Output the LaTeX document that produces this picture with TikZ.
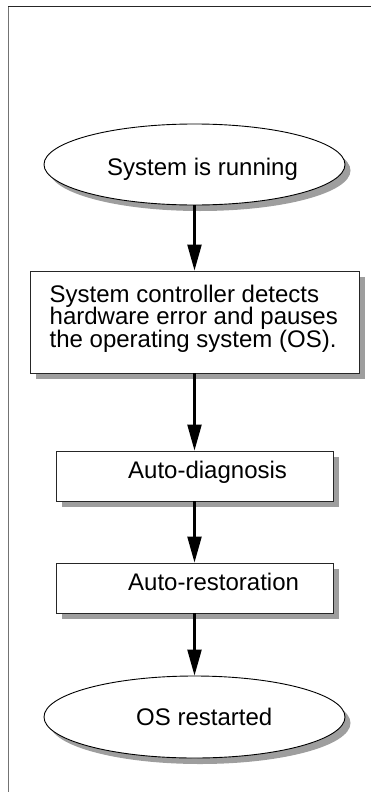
\documentclass[tikz,border=0pt]{standalone}
\usepackage{fontspec}
\setmainfont{Liberation Sans}
\usetikzlibrary{shapes.geometric,arrows.meta,shadows}
\begin{document}
\begin{tikzpicture}[x=1pt,y=-1pt,
  shad/.style={drop shadow={shadow xshift=5.5pt,shadow yshift=-6pt,fill=black!38,opacity=1}},
  ell/.style={ellipse,draw=black,line width=0.9pt,fill=white,inner sep=0pt,minimum width=301pt,minimum height=81pt,shad},
  boxnode/.style={rectangle,draw=black!85,line width=0.9pt,fill=white,inner sep=0pt,shad},
  txt/.style={inner sep=0pt,font=\fontsize{24}{22.5}\selectfont},
  flow/.style={line width=2.3pt,-{Triangle[length=26pt,width=14pt]}}]
\useasboundingbox (0,0) rectangle (371,792);
% frame
\draw[black!55,line width=1.4pt] (8.5,792) -- (8.5,7);
\draw[black!85,line width=1pt] (8,7) -- (371,7);
% shapes
\node[ell] (e1) at (194.5,164.5) {};
\node[boxnode,minimum width=329pt,minimum height=102pt] (b1) at (194.5,322) {};
\node[boxnode,minimum width=277pt,minimum height=50pt] (b2) at (194.5,476) {};
\node[boxnode,minimum width=277pt,minimum height=50pt] (b3) at (194.5,588) {};
\node[ell,minimum height=82pt] (e2) at (194.5,717) {};
% texts
\node[txt,anchor=base west] (t1) at (107,175.5) {System is running};
\node[txt,anchor=north west,align=left] (t2) at (49.5,284.5) {System controller detects\\hardware error and pauses\\the operating system (OS).};
\node[txt,anchor=base west] (t3) at (128,478.5) {Auto-diagnosis};
\node[txt,anchor=base west] (t4) at (128,590) {Auto-restoration};
\node[txt,anchor=base west] (t5) at (136,725) {OS restarted};
% connectors
\draw[flow] (e1.south) -- (b1.north);
\draw[flow] (b1.south) -- (b2.north);
\draw[flow] (b2.south) -- (b3.north);
\draw[flow] (b3.south) -- (e2.north);
\end{tikzpicture}
\end{document}
